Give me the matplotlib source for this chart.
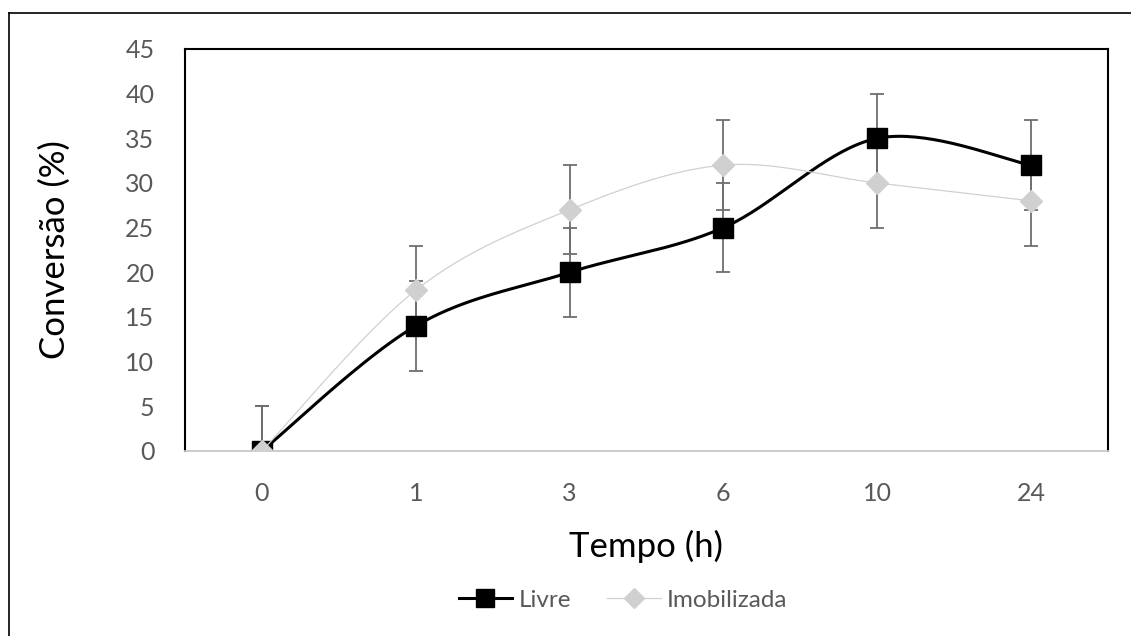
import numpy as np
import matplotlib
matplotlib.use("Agg")
import matplotlib.pyplot as plt
from matplotlib.lines import Line2D

categories = ["0", "1", "3", "6", "10", "24"]
livre = [0, 14, 20, 25, 35, 32]
imob = [0, 18, 27, 32, 30, 28]
livre_err = [5, 5, 5, 5, 5, 5]
imob_err = [5, 5, 5, 5, 5, 5]
yticks = [0, 5, 10, 15, 20, 25, 30, 35, 40, 45]

plt.rcParams['font.family'] = ['Lato', 'DejaVu Sans']

W, H = 1131, 636

def smooth(x, y, n=40):
    x = np.asarray(x, float); y = np.asarray(y, float)
    P = np.column_stack([x, y])
    out = []
    for i in range(len(P) - 1):
        p0 = P[i - 1] if i > 0 else P[i]
        p1 = P[i]; p2 = P[i + 1]
        p3 = P[i + 2] if i + 2 < len(P) else P[i + 1]
        c1 = p1 + (p2 - p0) / 6.0
        c2 = p2 - (p3 - p1) / 6.0
        t = np.linspace(0, 1, n)[:, None]
        seg = (1 - t) ** 3 * p1 + 3 * (1 - t) ** 2 * t * c1 + 3 * (1 - t) * t ** 2 * c2 + t ** 3 * p2
        out.append(seg if i == 0 else seg[1:])
    s = np.vstack(out)
    return s[:, 0], s[:, 1]

fig = plt.figure(figsize=(W / 100, H / 100), dpi=100)
ax = fig.add_axes([185 / W, 1 - 451 / H, 923 / W, 402 / H])

x = np.arange(len(categories)) + 0.5

ax.errorbar(x, imob, yerr=imob_err, fmt='none', ecolor='#6e6e6e', elinewidth=1.3, capsize=4.8, capthick=1.3, zorder=2)
ax.errorbar(x, livre, yerr=livre_err, fmt='none', ecolor='#6e6e6e', elinewidth=1.3, capsize=4.8, capthick=1.3, zorder=2)

sx, sy = smooth(x, livre)
ax.plot(sx, sy, color='black', lw=2.2, zorder=3)
ax.plot(x, livre, 's', color='black', markersize=14, zorder=4)
sx2, sy2 = smooth(x, imob)
ax.plot(sx2, sy2, color='#d0d0d0', lw=0.9, zorder=5)
ax.plot(x, imob, 'D', color='#d0d0d0', markersize=11, zorder=6)

ax.set_xlim(0, len(categories))
ax.set_ylim(0, 45)
ax.set_yticks(yticks)
ax.set_xticks(x)
ax.set_xticklabels(categories)
ax.tick_params(length=0, labelsize=18, colors='#595959')
ax.tick_params(axis='x', pad=22)
ax.tick_params(axis='y', pad=22)
for side in ['left', 'top', 'right']:
    ax.spines[side].set_color('black')
    ax.spines[side].set_linewidth(1.5)
ax.spines['bottom'].set_color('#c8c8c8')
ax.spines['bottom'].set_linewidth(1.3)

ax.set_xlabel('Tempo (h)', fontsize=25, color='black', va='center')
ax.xaxis.set_label_coords(646 / W, 1 - 546 / H, transform=fig.transFigure)
ax.set_ylabel('Conversão (%)', fontsize=25, color='black', va='center')
ax.yaxis.set_label_coords(55 / W, 1 - 250 / H, transform=fig.transFigure)

h1 = Line2D([], [], color='black', lw=2.2, marker='s', markersize=12.5)
h2 = Line2D([], [], color='#d0d0d0', lw=0.9, marker='D', markersize=10)
leg = fig.legend([h1, h2], ['Livre', 'Imobilizada'], loc='center', bbox_to_anchor=(623 / W, 1 - 600 / H),
                 ncol=2, frameon=False, fontsize=17.5, handlelength=2.2, handletextpad=0.25, columnspacing=1.5)
for t in leg.get_texts():
    t.set_color('#595959')

fig.add_artist(Line2D([9 / W, 9 / W], [0, 1 - 13 / H], transform=fig.transFigure, color='black', lw=1.2))
fig.add_artist(Line2D([9 / W, 1], [1 - 13 / H, 1 - 13 / H], transform=fig.transFigure, color='black', lw=1.2))

fig.savefig('out.png', dpi=100, facecolor='white')
